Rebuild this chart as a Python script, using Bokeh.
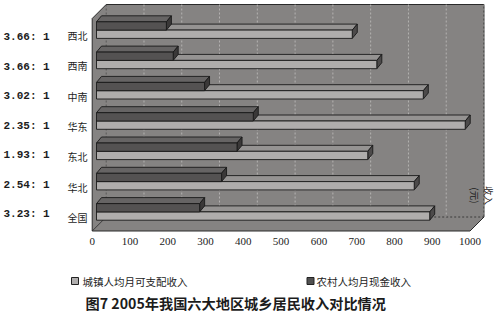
import numpy as np
from bokeh.plotting import figure
from bokeh.models import Range1d
from bokeh.core.properties import value
from bokeh.embed import file_html
from bokeh.resources import INLINE

# ---------------- data ----------------
regions = ["西北", "西南", "中南", "华东", "东北", "华北", "全国"]
ratios = ["3.66: 1", "3.66: 1", "3.02: 1", "2.35: 1", "1.93: 1", "2.54: 1", "3.23: 1"]
urban = [677, 742, 865, 976, 718, 841, 882]   # 城镇人均月可支配收入
rural = [185, 203, 286, 415, 372, 331, 273]   # 农村人均月现金收入
ticks = [0, 100, 200, 300, 400, 500, 600, 700, 800, 900, 1000]
series_names = ["城镇人均月可支配收入", "农村人均月现金收入"]
axis_title = "收入\n(元)"
caption = "图7  2005年我国六大地区城乡居民收入对比情况"

# ---------------- layout (pixels) ----------------
W, H = 500, 315
X0 = 91.7          # pixel of value 0 on the front floor edge
S = 0.3778         # pixels per unit
WALL = 14.0        # depth of the 3D box
FLOOR_Y = 230.5
TOP_Y = 4.0
BAR_X0 = 96.0      # bar front plane start
BDX, BDY = 5.0, -6.0
ROW0, ROWSTEP, BARH = 21.3, 30.3, 8.3


def px2x(px):
    return (px - X0) / S


p = figure(width=W, height=H, x_range=Range1d(px2x(0), px2x(W)), y_range=Range1d(H, 0),
           min_border=0, toolbar_location=None, output_backend="svg",
           x_axis_location=None, y_axis_location=None)
p.outline_line_color = None
p.background_fill_color = "white"
p.border_fill_color = "white"
p.xgrid.visible = False
p.ygrid.visible = False

grey = "#858382"
edge = "#2a2a2a"
x_end_front = X0 + ticks[-1] * S

# 3D box (left wall + back wall + floor)
box_x = [X0, X0, X0 + WALL, x_end_front + WALL, x_end_front + WALL, x_end_front]
box_y = [FLOOR_Y, TOP_Y + WALL, TOP_Y, TOP_Y, FLOOR_Y - WALL, FLOOR_Y]
p.patch([px2x(v) for v in box_x], box_y, fill_color=grey, line_color=edge, line_width=1)

# back-wall grid lines
gx = [px2x(X0 + WALL) + t for t in ticks[1:]]
p.segment(x0=gx, y0=[TOP_Y] * len(gx), x1=gx, y1=[FLOOR_Y - WALL] * len(gx),
          line_color="#c9c7c6", line_dash="2 2", line_width=1, line_alpha=0.7)
# floor/back join and left/back join
p.segment(x0=[px2x(X0 + WALL)], y0=[FLOOR_Y - WALL], x1=[px2x(x_end_front + WALL)],
          y1=[FLOOR_Y - WALL], line_color=edge, line_dash="2 2", line_width=0.8)
p.segment(x0=[px2x(X0 + WALL)], y0=[TOP_Y], x1=[px2x(X0 + WALL)],
          y1=[FLOOR_Y - WALL], line_color=edge, line_dash="2 2", line_width=0.8, line_alpha=0.6)
p.segment(x0=[px2x(X0)], y0=[FLOOR_Y], x1=[px2x(X0 + WALL)],
          y1=[FLOOR_Y - WALL], line_color=edge, line_width=0.8)

# ---------------- bars ----------------
xs = px2x(BAR_X0)
ddx = BDX / S


def bar(vals, offset, front, top, cap):
    fl, fr, ft, fb = [], [], [], []
    tx, ty, cx, cy = [], [], [], []
    for i, v in enumerate(vals):
        yt = ROW0 + ROWSTEP * i + offset
        yb = yt + BARH
        xe = xs + v
        fl.append(xs); fr.append(xe); ft.append(yt); fb.append(yb)
        tx.append([xs, xs + ddx, xe + ddx, xe]); ty.append([yt, yt + BDY, yt + BDY, yt])
        cx.append([xe, xe + ddx, xe + ddx, xe]); cy.append([yt, yt + BDY, yb + BDY, yb])
    p.patches(tx, ty, fill_color=top, line_color="#1a1a1a", line_width=0.9)
    p.patches(cx, cy, fill_color=cap, line_color="#1a1a1a", line_width=0.9)
    p.quad(left=fl, right=fr, top=ft, bottom=fb, fill_color=front,
           line_color="#1a1a1a", line_width=0.9)


bar(urban, BARH, "#afadac", "#959392", "#4c4a4a")
bar(rural, 0.0, "#545252", "#666464", "#3a3838")

# ---------------- texts ----------------
ink = "#1c1c1c"
p.text(x=[px2x(X0) + t for t in ticks], y=[241] * len(ticks), text=[str(t) for t in ticks],
       text_font=value("Liberation Serif"), text_font_size=value("11px"),
       text_align="center", text_baseline="middle", text_color=ink)

p.text(x=[px2x(87)] * len(regions), y=[35 + 30.3 * i for i in range(len(regions))],
       text=regions, text_font=value("Noto Sans CJK SC"), text_font_size=value("10px"),
       text_align="right", text_baseline="middle", text_color=ink)

p.text(x=[px2x(3)] * len(ratios), y=[36.5 + 29.5 * i for i in range(len(ratios))],
       text=ratios, text_font=value("Liberation Mono"), text_font_size=value("11px"),
       text_font_style="bold", text_align="left", text_baseline="middle", text_color=ink)

p.text(x=[px2x(481.5)], y=[195], text=[axis_title], angle=-np.pi / 2,
       text_font=value("Noto Sans CJK SC"), text_font_size=value("9.5px"),
       text_align="center", text_baseline="middle", text_color=ink, text_line_height=1.0)

# legend
p.scatter(x=[px2x(74.5), px2x(310)], y=[280.5, 280.5], marker="square", size=7,
          fill_color=["#b0aeae", "#505050"], line_color="#222222", line_width=1)
p.text(x=[px2x(82), px2x(316)], y=[280.5, 280.5], text=series_names,
       text_font=value("Noto Sans CJK SC"), text_font_size=value("10.5px"),
       text_align="left", text_baseline="middle", text_color=ink)

# caption
p.text(x=[px2x(85)], y=[302.5], text=[caption], text_font=value("Noto Sans CJK SC"),
       text_font_size=value("14.2px"), text_font_style="bold",
       text_align="left", text_baseline="middle", text_color=ink)

open("out.html", "w").write(file_html(p, INLINE))
